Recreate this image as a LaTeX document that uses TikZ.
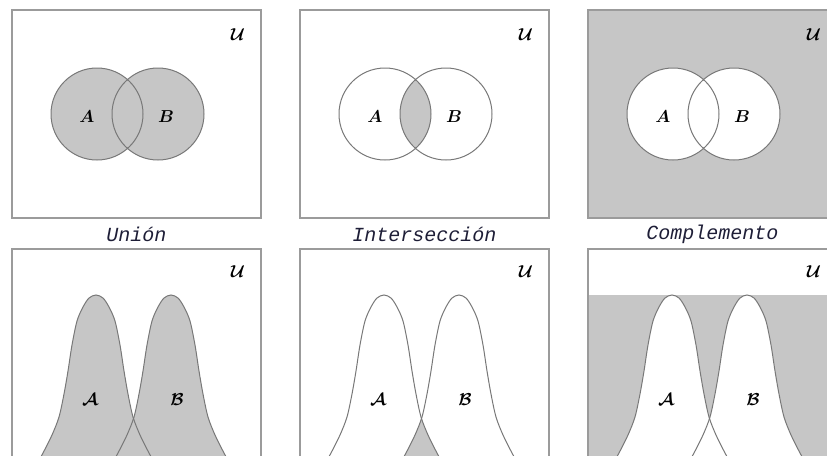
\documentclass[tikz,border=0pt]{standalone}
\usepackage{fontspec}
\usepackage{amsmath}
\setmonofont{Liberation Mono}
\definecolor{vnfill}{RGB}{198,198,198}
\definecolor{vnline}{RGB}{120,120,120}
\definecolor{vnbox}{RGB}{155,155,155}
\definecolor{vntext}{RGB}{30,30,55}

% the two bells, in panel coordinates
\newcommand{\bellA}{plot[smooth] coordinates {(22,220) (31,204) (40,186) (47,168) (52,145) (56,122) (60,96) (65,72) (71,58) (77,49) (84,46) (91,49) (97,58) (103,72) (108,96) (112,122) (116,145) (121,168) (128,186) (137,204) (146,220)}}
\newcommand{\bellB}{plot[smooth] coordinates {(97,220) (106,204) (115,186) (122,168) (127,145) (131,122) (135,96) (140,72) (146,58) (152,49) (159,46) (166,49) (172,58) (178,72) (183,96) (187,122) (191,145) (196,168) (203,186) (212,204) (221,220)}}

\begin{document}
\begin{tikzpicture}[x=1pt,y=-1pt,
  panel/.style={draw=vnbox,line width=1.8pt},
  setline/.style={draw=vnline,line width=1pt},
  caption/.style={font=\fontsize{20}{24}\selectfont\ttfamily\itshape,text=vntext},
  lbl/.style={font=\fontsize{18}{20}\selectfont}]
  \useasboundingbox (0,0) rectangle (827,455);
  \clip (0,0) rectangle (827,455);

  % top row: circles
  \begin{scope}[shift={(12,10)}]
    \fill[vnfill] (85,104) circle[radius=46] (146,104) circle[radius=46];
    \draw[setline] (85,104) circle[radius=46] (146,104) circle[radius=46];
    \draw[panel] (0,0) rectangle (249,208);
    \node[lbl] (uA) at (226,25) {$\boldsymbol{\mathcal{U}}$};
    \node[lbl] (aA) at (75,107) {$\boldsymbol{A}$};
    \node[lbl] (bA) at (154,107) {$\boldsymbol{B}$};
    \node[caption] (capA) at (124.5,224) {Unión};
  \end{scope}

  \begin{scope}[shift={(300,10)}]
    \begin{scope}
      \clip (85,104) circle[radius=46];
      \fill[vnfill] (146,104) circle[radius=46];
    \end{scope}
    \draw[setline] (85,104) circle[radius=46] (146,104) circle[radius=46];
    \draw[panel] (0,0) rectangle (249,208);
    \node[lbl] (uB) at (226,25) {$\boldsymbol{\mathcal{U}}$};
    \node[lbl] (aB) at (75,107) {$\boldsymbol{A}$};
    \node[lbl] (bB) at (154,107) {$\boldsymbol{B}$};
    \node[caption] (capB) at (124.5,224) {Intersección};
  \end{scope}

  \begin{scope}[shift={(588,10)}]
    \fill[vnfill] (0,0) rectangle (249,208);
    \fill[white] (85,104) circle[radius=46] (146,104) circle[radius=46];
    \draw[setline] (85,104) circle[radius=46] (146,104) circle[radius=46];
    \draw[panel] (0,0) rectangle (249,208);
    \node[lbl] (uC) at (226,25) {$\boldsymbol{\mathcal{U}}$};
    \node[lbl] (aC) at (75,107) {$\boldsymbol{A}$};
    \node[lbl] (bC) at (154,107) {$\boldsymbol{B}$};
    \node[caption] (capC) at (124.5,224) {Complemento};
  \end{scope}

  % bottom row: bell curves
  \begin{scope}[shift={(12,249)}]
    \fill[vnfill] \bellA -- cycle;
    \fill[vnfill] \bellB -- cycle;
    \draw[setline] \bellA;
    \draw[setline] \bellB;
    \draw[panel] (0,230) -- (0,0) -- (249,0) -- (249,230);
    \node[lbl] (uD) at (226,23) {$\boldsymbol{\mathcal{U}}$};
    \node[lbl] (aD) at (78,151) {$\boldsymbol{\mathcal{A}}$};
    \node[lbl] (bD) at (165,151) {$\boldsymbol{\mathcal{B}}$};
  \end{scope}

  \begin{scope}[shift={(300,249)}]
    \begin{scope}
      \clip \bellA -- cycle;
      \fill[vnfill] \bellB -- cycle;
    \end{scope}
    \draw[setline] \bellA;
    \draw[setline] \bellB;
    \draw[panel] (0,230) -- (0,0) -- (249,0) -- (249,230);
    \node[lbl] (uE) at (226,23) {$\boldsymbol{\mathcal{U}}$};
    \node[lbl] (aE) at (78,151) {$\boldsymbol{\mathcal{A}}$};
    \node[lbl] (bE) at (165,151) {$\boldsymbol{\mathcal{B}}$};
  \end{scope}

  \begin{scope}[shift={(588,249)}]
    \fill[vnfill] (0,46) rectangle (249,230);
    \fill[white] \bellA -- cycle;
    \fill[white] \bellB -- cycle;
    \draw[setline] \bellA;
    \draw[setline] \bellB;
    \draw[panel] (0,230) -- (0,0) -- (249,0) -- (249,230);
    \node[lbl] (uF) at (226,23) {$\boldsymbol{\mathcal{U}}$};
    \node[lbl] (aF) at (78,151) {$\boldsymbol{\mathcal{A}}$};
    \node[lbl] (bF) at (165,151) {$\boldsymbol{\mathcal{B}}$};
  \end{scope}
\end{tikzpicture}
\end{document}
